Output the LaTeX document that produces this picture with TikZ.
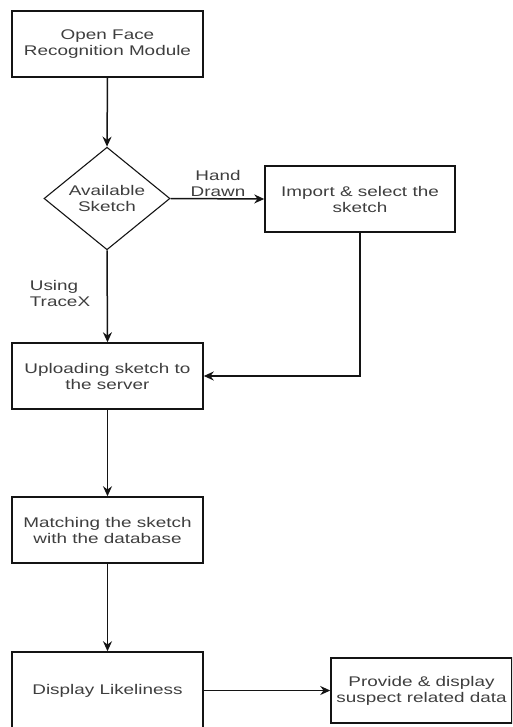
\documentclass[tikz,border=0pt]{standalone}
\usepackage{fontspec}
\setmainfont{Liberation Sans}[FakeStretch=1.35]
\usetikzlibrary{shapes.geometric,arrows.meta}
\definecolor{txt}{RGB}{62,62,62}
\definecolor{ln}{RGB}{20,20,20}
\begin{document}
\begin{tikzpicture}[x=1pt,y=-1pt,
  every node/.style={font=\fontsize{14}{16}\selectfont, text=txt, align=center},
  box/.style={draw=ln, line width=1.5pt, rectangle, minimum width=191pt, minimum height=66pt, inner sep=0pt},
  dia/.style={draw=ln, line width=1.1pt, diamond, minimum width=126pt, minimum height=87pt, inner sep=0pt},
  conn/.style={draw=ln, line width=1.5pt, -{Stealth[length=10pt,width=9pt]}},
  lbl/.style={inner sep=0pt}]
\useasboundingbox (0,0) rectangle (512,727);
\clip (0,0) rectangle (512,727);
\node[box] (open) at (107.5,44) {Open Face\\Recognition Module};
\node[dia] (avail) at (107,198.5) {Available\\Sketch};
\node[box, minimum width=190pt] (import) at (360,199) {Import \& select the\\sketch};
\node[box] (upload) at (107.5,376) {Uploading sketch to\\the server};
\node[box] (match) at (107.5,530) {Matching the sketch\\with the database};
\node[box, minimum height=78pt] (disp) at (107.5,691) {Display Likeliness};
\node[box, minimum width=181pt, minimum height=65pt] (prov) at (421.5,690.5) {Provide \& display\\suspect related data};
\node[lbl] (hand) at (218,183) {Hand\\Drawn};
\node[lbl, align=left] (trace) at (60,293) {Using\\TraceX};
\draw[conn] (open.south) -- (avail.north);
\draw[conn] (avail.east) -- (import.west);
\draw[conn] (avail.south) -- (upload.north);
\draw[conn] (import.south) |- (upload.east);
\draw[conn] (upload.south) -- (match.north);
\draw[conn] (match.south) -- (disp.north);
\draw[conn] (disp.east |- prov.west) -- (prov.west);
\end{tikzpicture}
\end{document}
